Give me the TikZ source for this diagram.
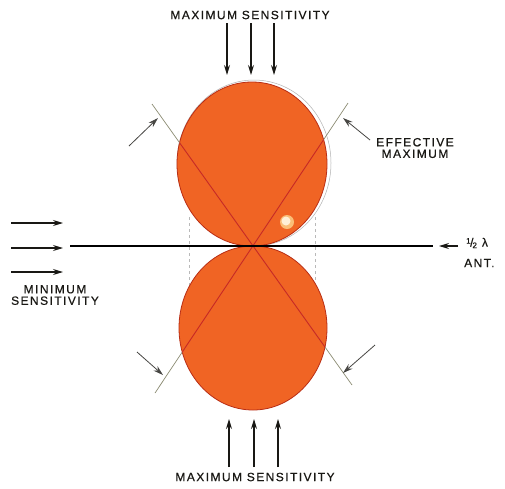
\documentclass[tikz,border=0pt]{standalone}
\usepackage{fontspec}
\setmainfont{Liberation Sans}[LetterSpace=12, FakeBold=0.6]
\usetikzlibrary{arrows.meta,shapes.geometric}
\definecolor{lobe}{RGB}{240,100,36}
\definecolor{lobeedge}{RGB}{185,45,20}
\definecolor{redline}{RGB}{215,35,25}
\definecolor{greyline}{RGB}{140,140,115}
\definecolor{ink}{RGB}{25,24,20}
\definecolor{glow}{RGB}{250,190,120}
\definecolor{spot}{RGB}{255,240,215}
\tikzset{
  lbl/.style={font=\fontsize{12}{14}\selectfont, text=ink, inner sep=0pt, align=center},
  arr/.style={draw=ink, line width=1.1pt, -{Stealth[length=10pt,width=6pt]}},
  halo/.style={draw=gray!60, line width=0.5pt},
  lobestyle/.style={draw=lobeedge, line width=0.8pt, fill=lobe, ellipse, inner sep=0pt, minimum height=164},
}
\begin{document}
\begin{tikzpicture}[x=1pt,y=-1pt]
\useasboundingbox (0,0) rectangle (505,488);
\fill[white] (0,0) rectangle (505,488);
% faint outline
\draw[halo] (254,163) ellipse [x radius=77, y radius=83];
\draw[gray!55, line width=0.5pt, dashed] (189,217) -- (189,292);
\draw[gray!55, line width=0.5pt, dashed] (315,217) -- (315,292);
% lobes
\node[lobestyle, minimum width=150] (up) at (252,164) {};
\node[lobestyle, minimum width=148] (dn) at (253,328) {};
\fill[glow] (287,222) circle (7);
\fill[spot] (286,221) circle (4.5);
% crossing lines
\coordinate (a1) at (152,104); \coordinate (a2) at (352,385);
\coordinate (b1) at (348,103); \coordinate (b2) at (155,393);
\draw[greyline, line width=0.7pt] (a1) -- (a2);
\draw[greyline, line width=0.7pt] (b1) -- (b2);
\begin{scope}
  \clip (252,164) ellipse [x radius=75, y radius=82] (253,328) ellipse [x radius=74, y radius=82];
  \draw[redline, line width=0.9pt] (a1) -- (a2);
  \draw[redline, line width=0.9pt] (b1) -- (b2);
\end{scope}
% antenna
\coordinate (antL) at (70,246); \coordinate (antR) at (433,246);
\draw[black, line width=1.8pt] (antL) -- (antR);
% top labels and arrows
\node[lbl] (maxtop) at (250,15) {MAXIMUM SENSITIVITY};
\coordinate (t1s) at (227,23); \coordinate (t1e) at (227,75);
\coordinate (t2s) at (251,23); \coordinate (t2e) at (251,75);
\coordinate (t3s) at (274,23); \coordinate (t3e) at (274,75);
\draw[arr] (t1s) -- (t1e); \draw[arr] (t2s) -- (t2e); \draw[arr] (t3s) -- (t3e);
% bottom labels and arrows
\node[lbl] (maxbot) at (255,477) {MAXIMUM SENSITIVITY};
\coordinate (u1s) at (229,467); \coordinate (u1e) at (229,419);
\coordinate (u2s) at (254,467); \coordinate (u2e) at (254,419);
\coordinate (u3s) at (278,467); \coordinate (u3e) at (278,419);
\draw[arr] (u1s) -- (u1e); \draw[arr] (u2s) -- (u2e); \draw[arr] (u3s) -- (u3e);
% left
\node[lbl] (minlbl) at (55,295) {MINIMUM\\[-2.5pt]SENSITIVITY};
\coordinate (l1s) at (11,223); \coordinate (l1e) at (63,223);
\coordinate (l2s) at (11,248); \coordinate (l2e) at (63,248);
\coordinate (l3s) at (11,272); \coordinate (l3e) at (63,272);
\draw[arr] (l1s) -- (l1e); \draw[arr] (l2s) -- (l2e); \draw[arr] (l3s) -- (l3e);
% right antenna label
\node[lbl, anchor=west] (half) at (466,243) {\raisebox{3pt}{\fontsize{8}{8}\selectfont 1}\kern-0.5pt/\kern-1pt\raisebox{-1.5pt}{\fontsize{8}{8}\selectfont 2}\kern5pt λ};
\node[lbl, anchor=west] (ant) at (464,263) {ANT.};
\coordinate (ars) at (458,246); \coordinate (are) at (439,246);
\draw[arr] (ars) -- (are);
% effective maximum
\node[lbl] (effmax) at (415,148) {EFFECTIVE\\[-2.5pt]MAXIMUM};
\coordinate (e1s) at (129,146); \coordinate (e1e) at (158,118);
\coordinate (e2s) at (370,140); \coordinate (e2e) at (343,118);
\coordinate (e3s) at (137,352); \coordinate (e3e) at (163,375);
\coordinate (e4s) at (375,345); \coordinate (e4e) at (343,373);
\draw[arr, line width=0.8pt, draw=ink!80] (e1s) -- (e1e);
\draw[arr, line width=0.8pt, draw=ink!80] (e2s) -- (e2e);
\draw[arr, line width=0.8pt, draw=ink!80] (e3s) -- (e3e);
\draw[arr, line width=0.8pt, draw=ink!80] (e4s) -- (e4e);
\end{tikzpicture}
\end{document}
